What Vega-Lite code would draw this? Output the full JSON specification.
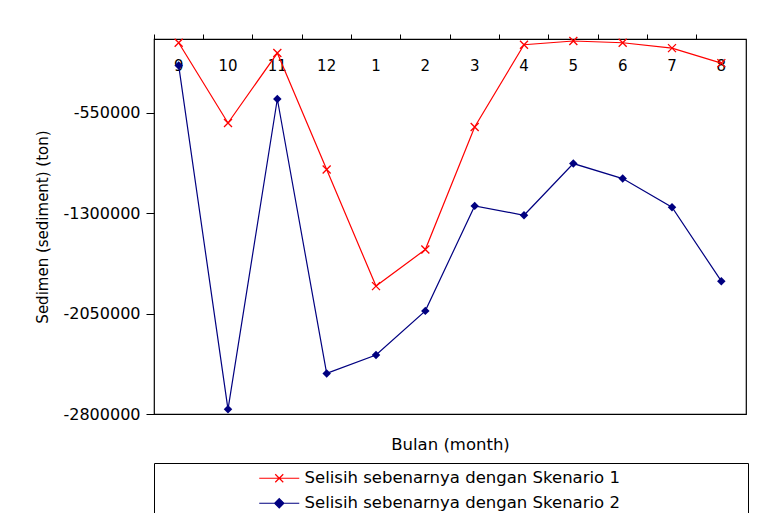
{
  "$schema": "https://vega.github.io/schema/vega-lite/v6.json",
  "width": 592,
  "height": 375,
  "autosize": {"type": "none"},
  "padding": {"left": 154, "top": 39, "right": 22, "bottom": 99},
  "background": "white",
  "data": {
    "values": [
      {"month": "9", "series": "Selisih sebenarnya dengan Skenario 1", "value": -28000},
      {"month": "10", "series": "Selisih sebenarnya dengan Skenario 1", "value": -627000},
      {"month": "11", "series": "Selisih sebenarnya dengan Skenario 1", "value": -105000},
      {"month": "12", "series": "Selisih sebenarnya dengan Skenario 1", "value": -975000},
      {"month": "1", "series": "Selisih sebenarnya dengan Skenario 1", "value": -1845000},
      {"month": "2", "series": "Selisih sebenarnya dengan Skenario 1", "value": -1572000},
      {"month": "3", "series": "Selisih sebenarnya dengan Skenario 1", "value": -657000},
      {"month": "4", "series": "Selisih sebenarnya dengan Skenario 1", "value": -43000},
      {"month": "5", "series": "Selisih sebenarnya dengan Skenario 1", "value": -15000},
      {"month": "6", "series": "Selisih sebenarnya dengan Skenario 1", "value": -28000},
      {"month": "7", "series": "Selisih sebenarnya dengan Skenario 1", "value": -68000},
      {"month": "8", "series": "Selisih sebenarnya dengan Skenario 1", "value": -180000},
      {"month": "9", "series": "Selisih sebenarnya dengan Skenario 2", "value": -197000},
      {"month": "10", "series": "Selisih sebenarnya dengan Skenario 2", "value": -2765000},
      {"month": "11", "series": "Selisih sebenarnya dengan Skenario 2", "value": -448000},
      {"month": "12", "series": "Selisih sebenarnya dengan Skenario 2", "value": -2497000},
      {"month": "1", "series": "Selisih sebenarnya dengan Skenario 2", "value": -2360000},
      {"month": "2", "series": "Selisih sebenarnya dengan Skenario 2", "value": -2030000},
      {"month": "3", "series": "Selisih sebenarnya dengan Skenario 2", "value": -1246000},
      {"month": "4", "series": "Selisih sebenarnya dengan Skenario 2", "value": -1316000},
      {"month": "5", "series": "Selisih sebenarnya dengan Skenario 2", "value": -930000},
      {"month": "6", "series": "Selisih sebenarnya dengan Skenario 2", "value": -1042000},
      {"month": "7", "series": "Selisih sebenarnya dengan Skenario 2", "value": -1256000},
      {"month": "8", "series": "Selisih sebenarnya dengan Skenario 2", "value": -1808000}
    ]
  },
  "encoding": {
    "y": {
      "field": "value",
      "type": "quantitative",
      "scale": {"domain": [-2800000, 0], "nice": false, "zero": false},
      "axis": {
        "title": "Sedimen (sediment) (ton)",
        "values": [-550000, -1300000, -2050000, -2800000],
        "labelExpr": "'-' + format(abs(datum.value), 'd')",
        "grid": false,
        "domain": false,
        "tickSize": 8,
        "tickColor": "black",
        "labelPadding": 6,
        "labelFont": "DejaVu Sans",
        "labelFontSize": 16,
        "labelColor": "black",
        "titleFont": "DejaVu Sans",
        "titleFontSize": 15,
        "titleFontWeight": "normal",
        "titleColor": "black",
        "titlePadding": 12
      }
    }
  },
  "layer": [
    {
      "mark": {"type": "line", "strokeWidth": 1.2},
      "encoding": {
        "x": {
          "field": "month",
          "type": "nominal",
          "sort": null,
          "scale": {"type": "band", "paddingInner": 0, "paddingOuter": 0},
          "axis": {
            "orient": "top",
            "title": null,
            "labelAngle": 0,
            "bandPosition": 0,
            "domain": false,
            "grid": false,
            "tickSize": 5,
            "tickColor": "black",
            "labelBandPosition": 0.5,
            "labelPadding": -31.4,
            "labelBaseline": "middle",
            "labelFont": "DejaVu Sans",
            "labelFontSize": 15,
            "labelColor": "black"
          }
        },
        "color": {
          "field": "series",
          "type": "nominal",
          "scale": {
            "domain": ["Selisih sebenarnya dengan Skenario 1", "Selisih sebenarnya dengan Skenario 2"],
            "range": ["#FF0000", "#000080"]
          },
          "legend": {
            "orient": "none",
            "legendX": 0,
            "legendY": 424,
            "direction": "vertical",
            "title": null,
            "strokeColor": "black",
            "padding": 7,
            "symbolOffset": 110,
            "symbolSize": 64,
            "symbolStrokeWidth": 1.2,
            "symbolType": "M-5,0H5",
            "labelOffset": 17,
            "labelLimit": 0,
            "labelExpr": "datum.label + '\u2800\u2800\u2800\u2800\u2800\u2800\u2800\u2800\u2800\u2800'",
            "labelFont": "DejaVu Sans",
            "labelFontSize": 16.5,
            "labelColor": "black",
            "rowPadding": 8,
            "encode": {
              "symbols": {
                "update": {
                  "shape": {"signal": "datum.value === 'Selisih sebenarnya dengan Skenario 1' ? 'M-5,0H5M-1,-1L1,1M-1,1L1,-1' : 'M-5,0H5M0,-1.15L1.15,0L0,1.15L-1.15,0Z'"},
                  "fill": {"signal": "datum.value === 'Selisih sebenarnya dengan Skenario 1' ? 'transparent' : '#000080'"}
                }
              }
            }
          }
        }
      }
    },
    {
      "transform": [{"filter": "datum.series === 'Selisih sebenarnya dengan Skenario 1'"}],
      "mark": {
        "type": "point",
        "shape": "M-1,-1L1,1M-1,1L1,-1",
        "filled": false,
        "stroke": "#FF0000",
        "strokeWidth": 1.3,
        "size": 64,
        "opacity": 1
      },
      "encoding": {
        "x": {
          "field": "month",
          "type": "nominal",
          "sort": null,
          "scale": {"type": "band", "paddingInner": 0, "paddingOuter": 0},
          "axis": {
            "orient": "bottom",
            "title": "Bulan (month)",
            "labels": false,
            "ticks": false,
            "domain": false,
            "grid": false,
            "titleFont": "DejaVu Sans",
            "titleFontSize": 16.5,
            "titleFontWeight": "normal",
            "titleColor": "black",
            "titlePadding": 22
          }
        }
      }
    },
    {
      "transform": [{"filter": "datum.series === 'Selisih sebenarnya dengan Skenario 2'"}],
      "mark": {
        "type": "point",
        "shape": "diamond",
        "filled": true,
        "color": "#000080",
        "size": 72,
        "opacity": 1
      },
      "encoding": {
        "x": {
          "field": "month",
          "type": "nominal",
          "sort": null,
          "scale": {"type": "band", "paddingInner": 0, "paddingOuter": 0},
          "axis": null
        }
      }
    }
  ],
  "resolve": {"axis": {"x": "independent"}},
  "config": {
    "view": {"stroke": "black", "strokeWidth": 1.2},
    "font": "DejaVu Sans"
  }
}
